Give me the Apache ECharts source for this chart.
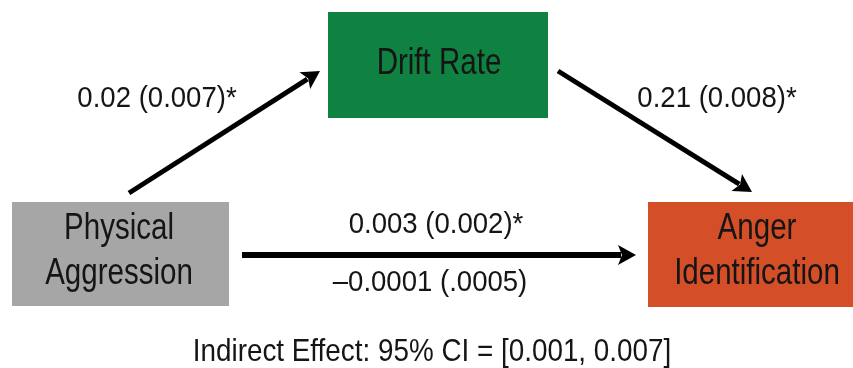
<!DOCTYPE html>
<html>
<head>
<meta charset="utf-8">
<script src="https://cdn.jsdelivr.net/npm/echarts@6/dist/echarts.min.js"></script>
<style>
  html, body { margin: 0; padding: 0; background: #ffffff; }
  #chart { width: 853px; height: 368px; }
</style>
</head>
<body>
<div id="chart"></div>
<script>
// Mediation model: Physical Aggression -> Drift Rate -> Anger Identification
const nodeNames = ['Physical\nAggression', 'Drift Rate', 'Anger\nIdentification'];
// paths: [from node, to node]
const pathEnds = [[0, 1], [1, 2], [0, 2]];
// coefficient (SE) text per path; the direct path shows total effect above, direct effect below
const pathLabels = ['0.02 (0.007)*', '0.21 (0.008)*', '0.003 (0.002)*', '\u20130.0001 (.0005)'];
const indirectNote = 'Indirect Effect: 95% CI = [0.001, 0.007]';

// ---- layout (diagram units on hidden axes, 0..853 by 0..368) ----
const boxLayout = [
  { x0: 12,  y0: 202, x1: 229, y1: 306, fill: '#a6a6a6' },
  { x0: 328, y0: 12,  x1: 548, y1: 118, fill: '#0f8140' },
  { x0: 648, y0: 202, x1: 866, y1: 307, fill: '#d44f27' }
];
const boxTextCenter = [[119, 252], [439, 64], [757, 252]];
const arrowLayout = [
  { from: [129, 193], to: [320, 71],  width: 5 },
  { from: [558, 71],  to: [752, 192], width: 5 },
  { from: [242, 255], to: [636, 255], width: 6 }
];
const labelLayout = [[157, 99], [717, 99], [436, 225], [430, 283]];
const noteLayout = [432, 352];

const SANS = '"Liberation Sans", Arial, sans-serif';
const INK = '#151515';

const chart = echarts.init(document.getElementById('chart'), null, { renderer: 'canvas' });

// condensed-looking text: regular sans squeezed horizontally
function squeezedText(text, p, size, squeeze, lineHeight) {
  return {
    type: 'text', x: p[0], y: p[1], scaleX: squeeze, scaleY: 1,
    style: { text: text, x: 0, y: 0, align: 'center', verticalAlign: 'middle',
      font: size + 'px ' + SANS, lineHeight: lineHeight || size * 1.2, fill: INK }
  };
}

function boxItem(params, api) {
  const i = params.dataIndex;
  const b = boxLayout[i];
  const p0 = api.coord([b.x0, b.y0]);
  const p1 = api.coord([b.x1, b.y1]);
  return {
    type: 'group',
    children: [
      { type: 'rect', shape: { x: p0[0], y: p0[1], width: p1[0] - p0[0], height: p1[1] - p0[1] },
        style: { fill: b.fill } },
      squeezedText(nodeNames[i], api.coord(boxTextCenter[i]), 36, 0.82, 45)
    ]
  };
}

function arrowItem(params, api) {
  const a = arrowLayout[params.dataIndex];
  const s = api.coord(a.from);
  const e = api.coord(a.to);
  const dx = e[0] - s[0], dy = e[1] - s[1];
  const len = Math.sqrt(dx * dx + dy * dy);
  const ux = dx / len, uy = dy / len;
  const px = -uy, py = ux;
  const headLen = 18, headHalf = 10;
  const bx = e[0] - ux * headLen, by = e[1] - uy * headLen;
  return {
    type: 'group',
    children: [
      { type: 'line', shape: { x1: s[0], y1: s[1], x2: bx + ux * 3, y2: by + uy * 3 },
        style: { stroke: '#000', lineWidth: a.width, lineCap: 'butt' } },
      { type: 'polygon', shape: { points: [
          [e[0], e[1]],
          [bx + px * headHalf, by + py * headHalf],
          [bx + ux * 4, by + uy * 4],
          [bx - px * headHalf, by - py * headHalf]
        ] }, style: { fill: '#000' } }
    ]
  };
}

function labelItem(params, api) {
  const i = params.dataIndex;
  return squeezedText(pathLabels[i], api.coord(labelLayout[i]), 29, 0.95);
}

function noteItem(params, api) {
  return squeezedText(indirectNote, api.coord(noteLayout), 32, 0.87);
}

const hiddenAxis = { show: false, type: 'value' };

chart.setOption({
  animation: false,
  backgroundColor: '#ffffff',
  grid: { left: 0, right: 0, top: 0, bottom: 0 },
  xAxis: Object.assign({}, hiddenAxis, { min: 0, max: 853 }),
  yAxis: Object.assign({}, hiddenAxis, { min: 0, max: 368, inverse: true }),
  series: [
    { type: 'custom', name: 'paths', renderItem: arrowItem, data: pathEnds.map((p, i) => [i]), silent: true },
    { type: 'custom', name: 'variables', renderItem: boxItem, data: nodeNames.map((n, i) => [i]), silent: true },
    { type: 'custom', name: 'coefficients', renderItem: labelItem, data: pathLabels.map((t, i) => [i]), silent: true },
    { type: 'custom', name: 'note', renderItem: noteItem, data: [[0]], silent: true }
  ]
});
</script>
</body>
</html>
